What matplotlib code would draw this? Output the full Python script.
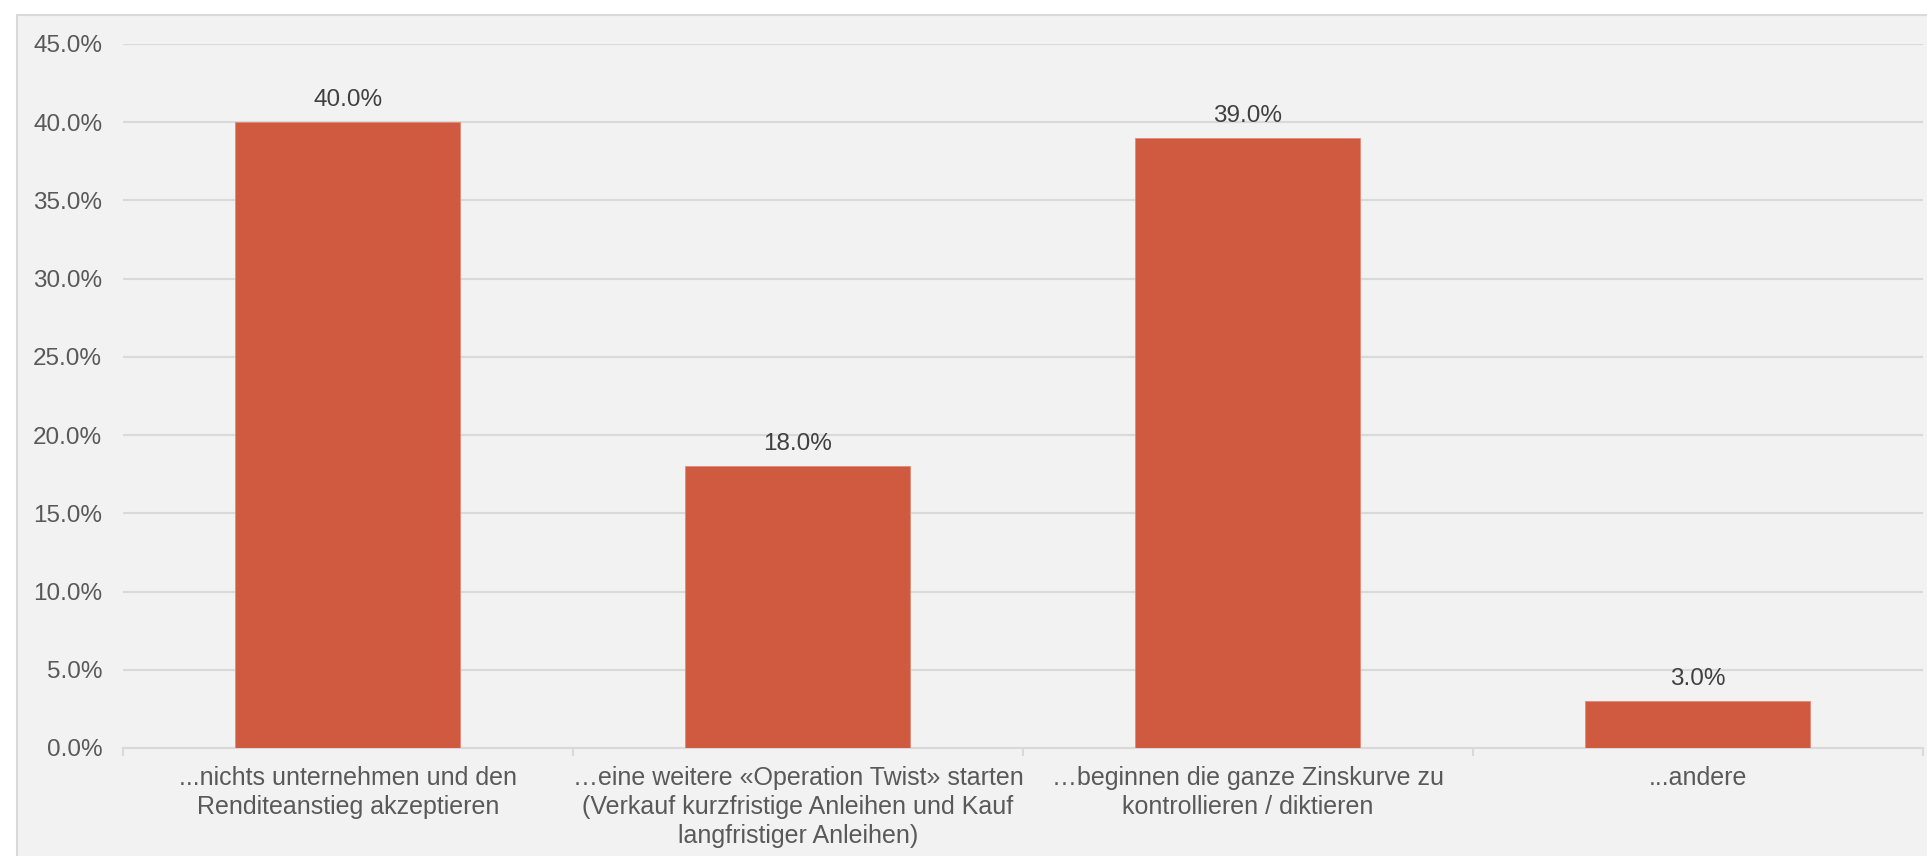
import matplotlib.pyplot as plt
from matplotlib import font_manager
from matplotlib.patches import Rectangle
from matplotlib.ticker import FuncFormatter

categories = [
    "...nichts unternehmen und den\nRenditeanstieg akzeptieren",
    "\u2026eine weitere \u00abOperation Twist\u00bb starten\n(Verkauf kurzfristige Anleihen und Kauf\nlangfristiger Anleihen)",
    "\u2026beginnen die ganze Zinskurve zu\nkontrollieren / diktieren",
    "...andere",
]
values = [40.0, 18.0, 39.0, 3.0]
yticks = [0, 5, 10, 15, 20, 25, 30, 35, 40, 45]

names = {f.name for f in font_manager.fontManager.ttflist}
narrow = "Liberation Sans Narrow" if "Liberation Sans Narrow" in names else "Liberation Sans"
plt.rcParams['font.family'] = ['Liberation Sans', 'DejaVu Sans']

fig = plt.figure(figsize=(19.27, 8.56), dpi=100)
fig.patch.set_facecolor('white')
# chart area frame
fig.patches.append(Rectangle((17 / 1927, -0.01), 1.01 - 17 / 1927, 1.01 - 15 / 856,
                             transform=fig.transFigure, facecolor='#f2f2f2',
                             edgecolor='#d9d9d9', linewidth=1.5, zorder=-5))

ax = fig.add_axes([123 / 1927, 1 - 748 / 856, (1923 - 123) / 1927, (748 - 44) / 856])
ax.set_zorder(2)
ax.set_facecolor('none')

x = list(range(len(values)))
ax.bar(x, values, width=0.5, color='#d05a40', edgecolor='#e08a78', linewidth=0.6, zorder=3)
for xi, v in zip(x, values):
    ax.text(xi, v + 0.7, f"{v:.1f}%", ha='center', va='bottom', fontsize=17.5,
            color='#404040', zorder=4)

ax.set_xlim(-0.5, len(values) - 0.5)
ax.set_ylim(0, 45)
ax.set_yticks(yticks)
ax.yaxis.set_major_formatter(FuncFormatter(lambda v, p: f"{v:.1f}%"))
ax.tick_params(axis='y', length=0, labelsize=17.5, labelcolor='#595959', pad=15)
ax.grid(axis='y', color='#d9d9d9', linewidth=1.5, zorder=0)
ax.set_axisbelow(True)

ax.set_xticks(x)
ax.set_xticklabels(categories, fontsize=18 if narrow == "Liberation Sans" else 20,
                   color='#595959', family=[narrow, 'DejaVu Sans'], linespacing=1.25)
ax.set_xticks([i - 0.5 for i in range(len(values) + 1)], minor=True)
ax.tick_params(axis='x', which='major', length=0, pad=13)
ax.tick_params(axis='x', which='minor', length=6, width=1.5, color='#d9d9d9')

for s in ['top', 'right', 'left']:
    ax.spines[s].set_visible(False)
ax.spines['bottom'].set_color('#d9d9d9')
ax.spines['bottom'].set_linewidth(1.5)

fig.savefig('out.png', dpi=100, facecolor=fig.get_facecolor())
